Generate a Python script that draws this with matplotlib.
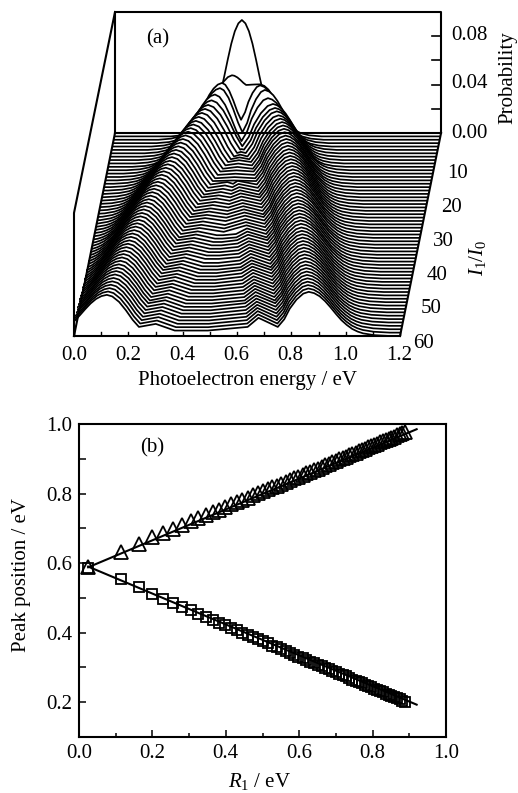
import numpy as np
import matplotlib
matplotlib.use("Agg")
import matplotlib.pyplot as plt
from matplotlib.patches import Rectangle

plt.rcParams['font.family'] = ['Liberation Serif', 'DejaVu Serif']
plt.rcParams['mathtext.fontset'] = 'custom'
plt.rcParams['mathtext.rm'] = 'Liberation Serif'
plt.rcParams['mathtext.it'] = 'Liberation Serif:italic'

# ---- panel (a): features of each spectrum, read row by row (I1/I0 = 0..60)
left_peak = [.467,.433,.399,.394,.378,.368,.358,.349,.340,.331,.323,
             .316,.309,.302,.295,.288,.282,.276,.270,.265,.260,
             .255,.250,.245,.240,.235,.231,.226,.222,.217,.213,
             .209,.205,.201,.197,.194,.190,.187,.183,.180,.177,
             .174,.170,.167,.164,.161,.158,.155,.152,.149,.146,
             .143,.141,.138,.136,.133,.131,.128,.126,.123,.121]
right_peak = [.467,.537,.539,.559,.573,.594,.604,.613,.622,.631,.640,
              .646,.652,.657,.663,.668,.674,.679,.685,.690,.695,
              .700,.705,.710,.715,.720,.725,.729,.734,.738,.742,
              .747,.751,.755,.760,.764,.768,.772,.776,.781,.785,
              .789,.793,.797,.801,.805,.809,.813,.817,.821,.825,
              .829,.833,.837,.841,.845,.849,.852,.856,.860,.864]
left_height = [.0934,.0505,.047,.0455,.043,.041,.040,.0395,.039,.0385,.038,
               .0378,.0376,.0374,.0372,.037,.0368,.0366,.0364,.0362,.036,
               .0358,.0357,.0356,.0355,.0354,.0353,.0352,.0351,.035,.035,
               .0349,.0348,.0348,.0347,.0347,.0346,.0346,.0345,.0345,.0345,
               .0344,.0344,.0344,.0343,.0343,.0343,.0342,.0342,.0342,.0342,
               .0341,.0341,.0341,.0341,.034,.034,.034,.034,.034,.034]
right_height = [.0934,.043,.045,.044,.040,.038,.0375,.0375,.037,.037,.037,
                .037,.037,.037,.037,.037,.037,.037,.037,.037,.037,
                .037,.037,.037,.037,.037,.037,.037,.037,.037,.037,
                .037,.0368,.0368,.0368,.0368,.0368,.0368,.0368,.0368,.0368,
                .0366,.0366,.0366,.0366,.0366,.0366,.0366,.0366,.0366,.0366,
                .0365,.0365,.0365,.0365,.0365,.0365,.0365,.0365,.0365,.0365]
dip_height = [.0934,.0425,.0165,.009,.0045,.003,.003,.003,.003,.0035,.004,
              .004,.004,.0045,.0045,.0045,.005,.005,.005,.005,.005,
              .0055,.0055,.0055,.0055,.0055,.0055,.006,.006,.006,.006,
              .006,.006,.006,.0065,.0065,.0065,.0065,.0065,.0065,.0065,
              .0065,.0065,.007,.007,.007,.007,.007,.007,.007,.007,
              .007,.007,.0075,.0075,.0075,.0075,.0075,.0075,.0075,.0075]
center_height = [.0934,.0425,.0165,.009,.0045,.003,.0035,.004,.0045,.005,.0055,
                 .0055,.0055,.0055,.0055,.0055,.0055,.0055,.0055,.0055,.0055,
                 .0055,.0055,.0055,.0055,.0055,.0055,.0055,.0055,.005,.005,
                 .005,.005,.005,.005,.005,.005,.005,.005,.005,.0045,
                 .0045,.0045,.0045,.0045,.0045,.0045,.0045,.0045,.0045,.0045,
                 .0045,.0045,.0045,.0045,.0045,.0045,.0045,.0045,.0045,.0045]
left_ripple = [0,0,0,0,0,0,0,0,0,0,0,
               0,0,0,0,0,0,.007,.007,.007,.0072,
               .0072,.0074,.0074,.0076,.0076,.0078,.0078,.008,.008,.008,
               .0082,.0082,.0084,.0084,.0086,.0086,.0088,.0088,.009,.009,
               .009,.0092,.0092,.0094,.0094,.0096,.0096,.0096,.0098,.0098,
               .0098,.0098,.010,.010,.010,.010,.010,.010,.010,.010]
right_ripple = [0,0,0,0,0,0,0,0,0,0,0,
                0,0,0,0,0,0,.008,.0082,.0084,.0086,
                .0088,.009,.009,.0092,.0094,.0096,.0098,.010,.010,.0102,
                .0104,.0106,.0108,.011,.011,.0112,.0114,.0116,.0118,.012,
                .012,.0122,.0124,.0126,.0128,.013,.013,.0132,.0134,.0136,
                .0138,.014,.014,.0142,.0144,.0146,.0148,.015,.015,.015]
flank_scale = [.65,.75,.78,.78,.78,.78,.78,.78,.78,.78,.78,
               .82,.825,.83,.84,.85,.86,.865,.87,.875,.88,
               .89,.895,.90,.905,.91,.915,.92,.925,.93,.935,
               .94,.94,.945,.95,.95,.955,.96,.96,.965,.97,
               .97,.97,.975,.975,.98,.98,.98,.985,.985,.99,
               .99,.99,.99,.995,.995,.995,1.0,1.0,1.0,1.0]

# line shape of one peak
outer_offset = [.02,.04,.06,.08,.10,.12,.14,.16,.18,.20,.24,.30]
outer_share = [.97,.90,.79,.65,.50,.36,.25,.16,.10,.06,.02,0.0]
inner_left_offset = [.02,.045,.07,.095,.118]
inner_right_offset = [.02,.045,.07,.09,.114]
inner_share = [.95,.78,.52,.22,0.0]

wall_ticks = [0.00,0.02,0.04,0.06,0.08]
wall_labels = ['0.00','0.04','0.08']
energy_ticks = [0.0,0.1,0.2,0.3,0.4,0.5,0.6,0.7,0.8,0.9,1.0,1.1,1.2]
energy_labels = ['0.0','0.2','0.4','0.6','0.8','1.0','1.2']
depth_labels = ['10','20','30','40','50','60']

# ---- panel (b)
r1 = [.025,.115,.163,.2,.23,.257,.282,.304,.325,.345,.364,.381,.398,.415,.43,.445,.46,.474,.488,.501,
      .514,.527,.539,.551,.563,.575,.586,.598,.609,.619,.63,.64,.651,.661,.671,.68,.69,.70,.709,.718,
      .727,.736,.745,.754,.762,.771,.779,.788,.796,.804,.812,.82,.828,.836,.844,.851,.859,.866,.874,.881,.889]
upper_peak = [.588,.632,.656,.674,.687,.699,.71,.72,.729,.738,.746,.754,.761,.769,.775,.782,.788,.795,.801,.806,
              .812,.818,.823,.828,.834,.839,.844,.849,.854,.858,.863,.868,.872,.877,.881,.885,.89,.894,.898,.902,
              .906,.91,.914,.918,.921,.925,.929,.933,.936,.94,.943,.947,.95,.954,.957,.96,.964,.967,.971,.974,.977]
lower_peak = [.585,.553,.53,.51,.497,.485,.473,.464,.454,.445,.437,.429,.421,.414,.407,.4,.393,.387,.381,.375,
              .369,.363,.358,.353,.347,.342,.337,.331,.327,.322,.317,.313,.308,.303,.299,.295,.29,.286,.282,.278,
              .274,.27,.265,.261,.258,.254,.25,.246,.243,.239,.235,.232,.228,.225,.221,.218,.214,.211,.208,.204,.201]
upper_fit_x = [.025,.92]
upper_fit_y = [.588,.985]
lower_fit_x = [.025,.92]
lower_fit_y = [.59,.193]

W, H = 518, 793
fig = plt.figure(figsize=(W / 100, H / 100), dpi=100)
def box(l, t, r, b):
    return [l / W, 1 - b / H, (r - l) / W, (b - t) / H]
def label(x, y, s, **kw):
    kw.setdefault('fontsize', 15)
    kw.setdefault('ha', 'center')
    kw.setdefault('va', 'center')
    fig.text(x / W, 1 - y / H, s, **kw)

# ---- panel (a)
ax = fig.add_axes(box(74, 12, 441, 336))
ax.axis('off')
PX_E, PX_Z = 271.7, 1210.0
ax.set_xlim(0, 367 / PX_E)
ax.set_ylim(0, 324 / PX_Z)
SHIFT, LIFT = 41 / PX_E, 203 / PX_Z
n_rows = len(left_peak)
for n in range(n_rows):
    p1, p2 = left_peak[n], right_peak[n]
    h1, h2 = left_height[n], right_height[n]
    dip, cen = dip_height[n], center_height[n]
    rip1, rip2 = left_ripple[n], right_ripple[n]
    fs = flank_scale[n]
    half = (p2 - p1) / 2
    c = (p1 + p2) / 2
    xs, zs = [-0.5], [0.0]
    for o, s in zip(outer_offset[::-1], outer_share[::-1]):
        xs.append(p1 - o * fs); zs.append(h1 * s)
    xs.append(p1); zs.append(h1)
    if half > 0:
        k = min(1.0, half / .118)
        for o, s in zip(inner_left_offset, inner_share):
            xs.append(p1 + o * k); zs.append(dip + (h1 - dip) * s)
        if half > .2:
            xs.append(p1 + .18); zs.append(rip1)
        if half > .27:
            xs.append(p1 + .25); zs.append(cen)
        if half > .118:
            xs.append(c); zs.append(cen)
        if half > .27:
            xs.append(p2 - .225); zs.append(dip)
        if half > .2:
            xs.append(p2 - .185); zs.append(rip2)
        k = min(1.0, half / .114)
        for o, s in zip(inner_right_offset[::-1], inner_share[::-1]):
            xs.append(p2 - o * k); zs.append(dip + (h2 - dip) * s)
        xs.append(p2); zs.append(h2)
    for o, s in zip(outer_offset, outer_share):
        xs.append(p2 + o * fs); zs.append(h2 * s)
    xs.append(1.7); zs.append(0.0)
    frac = (n_rows - 1 - n) / (n_rows - 1)
    xp = np.array(xs) + frac * SHIFT
    zp = np.array(zs) + frac * LIFT
    clip = Rectangle((frac * SHIFT, -1), 1.2, 3, transform=ax.transData)
    poly = ax.fill_between(xp, frac * LIFT, zp, color='white', lw=0, zorder=2 + n * 0.01)
    poly.set_clip_path(clip)
    line, = ax.plot(xp, zp, color='k', lw=1.25, zorder=2 + n * 0.01 + 0.005, solid_joinstyle='round')
    line.set_clip_path(clip)

frame = dict(color='k', lw=1.5, zorder=5, clip_on=False, solid_capstyle='projecting')
Z_TOP = 324 / PX_Z
ax.plot([SHIFT, SHIFT, SHIFT + 1.2, SHIFT + 1.2], [LIFT, Z_TOP, Z_TOP, LIFT], **frame)
ax.plot([SHIFT, SHIFT + 1.2], [LIFT, LIFT], **frame)
ax.plot([0, SHIFT], [0, LIFT], **frame)
ax.plot([1.2, SHIFT + 1.2], [0, LIFT], **frame)
ax.plot([0, 1.2], [0, 0], **frame)
ax.plot([0, 0, SHIFT], [0, 123 / PX_Z, Z_TOP], **frame)
for e in energy_ticks:
    ax.plot([e, e], [0, 4 / PX_Z], color='k', lw=1.0, zorder=5)
for z in wall_ticks[1:]:
    ax.plot([SHIFT + 1.2 - 9 / PX_E, SHIFT + 1.2], [LIFT + z, LIFT + z], color='k', lw=1.2, zorder=5)

for x, s in zip([74, 128, 182, 236, 290, 345, 399], energy_labels):
    label(x, 355, s)
for y, s in zip([133, 84, 36], wall_labels):
    label(469, y, s)
for (x, y), s in zip([(458, 174), (451, 207), (443, 241), (437, 275), (431, 308), (424, 343)], depth_labels):
    label(x, y, s)
label(248, 381, 'Photoelectron energy / eV')
label(508, 78, 'Probability', rotation=90)
label(478, 258, r'$I_1/I_0$', rotation=90)
label(158, 39, '(a)')

# ---- panel (b)
bx = fig.add_axes(box(79, 424, 446, 737))
bx.plot(upper_fit_x, upper_fit_y, color='k', lw=1.5, zorder=3)
bx.plot(lower_fit_x, lower_fit_y, color='k', lw=1.5, zorder=3)
bx.plot(r1, upper_peak, ls='none', marker='^', ms=10, mfc='none', mec='k', mew=1.3, zorder=2)
bx.plot(r1, lower_peak, ls='none', marker='s', ms=7.5, mfc='none', mec='k', mew=1.3, zorder=2)
bx.set_xlim(0, 1)
bx.set_ylim(.1, 1)
bx.set_xticks([0, .2, .4, .6, .8, 1.0])
bx.set_xticks([.1, .3, .5, .7, .9], minor=True)
bx.set_yticks([.2, .4, .6, .8, 1.0])
bx.set_yticks([.1, .3, .5, .7, .9], minor=True)
bx.set_xticklabels(['0.0', '0.2', '0.4', '0.6', '0.8', '1.0'])
bx.set_yticklabels(['0.2', '0.4', '0.6', '0.8', '1.0'])
bx.tick_params(which='major', direction='in', length=5, width=1.1, labelsize=15, pad=5)
bx.tick_params(axis='x', which='minor', direction='in', length=3, width=1.1)
bx.tick_params(axis='y', which='minor', direction='in', length=5, width=1.1)
for s in bx.spines.values():
    s.set_linewidth(1.5)
label(260, 782, r'$R_1$ / eV')
label(22, 575, 'Peak position / eV', rotation=90)
label(152, 448, '(b)')

fig.savefig('out.png', dpi=100)
